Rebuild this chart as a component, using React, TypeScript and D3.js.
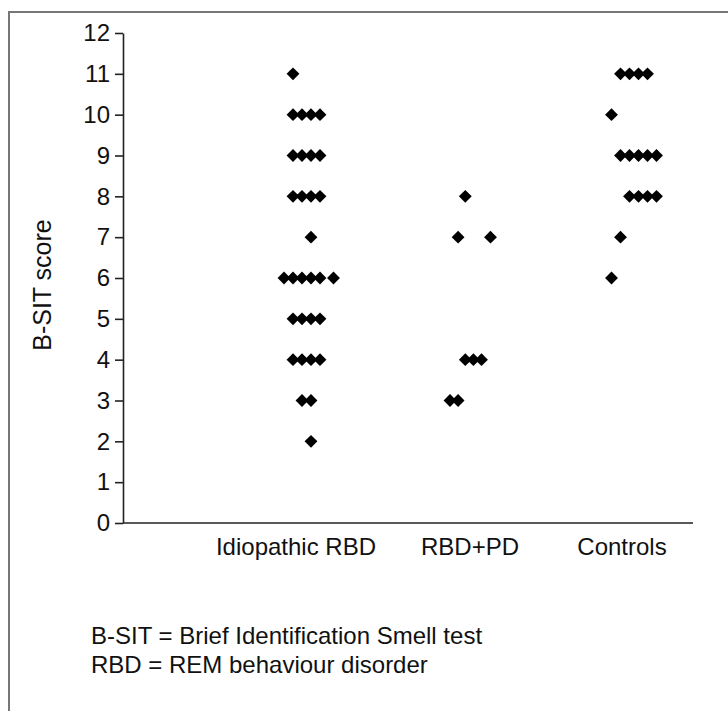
import React, { useEffect, useRef } from "react";
import * as d3 from "d3";

// categories on the x axis
const groups = ["Idiopathic RBD", "RBD+PD", "Controls"];

// B-SIT scores, with the horizontal slot each diamond sits in
const idiopathicScores = [11, 10, 10, 10, 10, 9, 9, 9, 9, 8, 8, 8, 8, 7, 6, 6, 6, 6, 6, 6, 5, 5, 5, 5, 4, 4, 4, 4, 3, 3, 2];
const idiopathicSlots = [-1, -1, 0, 1, 2, -1, 0, 1, 2, -1, 0, 1, 2, 1, -2, -1, 0, 1, 2, 3.5, -1, 0, 1, 2, -1, 0, 1, 2, 0, 1, 1];

const rbdPdScores = [8, 7, 7, 4, 4, 4, 3, 3];
const rbdPdSlots = [-0.3, -1.1, 2.5, -0.3, 0.6, 1.5, -2, -1.1];

const controlScores = [11, 11, 11, 11, 10, 9, 9, 9, 9, 9, 8, 8, 8, 8, 7, 6];
const controlSlots = [-1.5, -0.5, 0.5, 1.5, -2.5, -1.5, -0.5, 0.5, 1.5, 2.5, -0.5, 0.5, 1.5, 2.5, -1.5, -2.5];

const yTicks = d3.range(0, 13);

const footnotes = [
  "B-SIT = Brief Identification Smell test",
  "RBD = REM behaviour disorder",
];

const FONT = "'Liberation Sans', Arial, Helvetica, sans-serif";

const App = () => {
  const yRef = useRef(null);
  const xRef = useRef(null);

  const width = 728;
  const height = 711;
  const left = 123;
  const right = 693;
  const top = 33;
  const bottom = 523;
  const slotW = 9;

  const y = d3.scaleLinear().domain([0, 12]).range([bottom, top]);
  const x = d3.scalePoint().domain(groups).range([302, 634]);

  const points = [
    ...idiopathicScores.map((v, i) => ({ g: groups[0], v, s: idiopathicSlots[i] })),
    ...rbdPdScores.map((v, i) => ({ g: groups[1], v, s: rbdPdSlots[i] })),
    ...controlScores.map((v, i) => ({ g: groups[2], v, s: controlSlots[i] })),
  ];

  // label nudges so the category names sit like in the figure
  const labelShift = { "Idiopathic RBD": -6, "RBD+PD": 2, Controls: -12 };

  const diamond = d3.symbol().type(d3.symbolDiamond2).size(105);

  useEffect(() => {
    const gy = d3.select(yRef.current);
    gy.selectAll("*").remove();
    gy.call(d3.axisLeft(y).tickValues(yTicks).tickSize(8).tickSizeOuter(0).tickPadding(5));
    gy.selectAll("path, line").attr("stroke", "#222").attr("stroke-width", 1.6);
    gy.selectAll("text").attr("font-family", FONT).attr("font-size", 24).attr("fill", "#111");

    const gx = d3.select(xRef.current);
    gx.selectAll("*").remove();
    gx.append("line")
      .attr("x1", left)
      .attr("x2", right)
      .attr("y1", 0)
      .attr("y2", 0)
      .attr("stroke", "#222")
      .attr("stroke-width", 1.6);
    gx.selectAll("text.cat")
      .data(groups)
      .enter()
      .append("text")
      .attr("class", "cat")
      .attr("x", (d) => x(d) + labelShift[d])
      .attr("y", 32)
      .attr("text-anchor", "middle")
      .attr("font-family", FONT)
      .attr("font-size", 24)
      .attr("fill", "#111")
      .text((d) => d);
  }, []);

  return (
    <svg
      width={width}
      height={height}
      style={{ position: "absolute", left: 0, top: 0, background: "#fff" }}
    >
      <rect x={0} y={0} width={width} height={height} fill="#fff" />
      <path d={`M9,${height} V12 H${width}`} fill="none" stroke="#777" strokeWidth={2} />
      <g ref={yRef} transform={`translate(${left},0)`} />
      <g ref={xRef} transform={`translate(0,${bottom})`} />
      {points.map((p, i) => (
        <path
          key={i}
          d={diamond()}
          transform={`translate(${x(p.g) + p.s * slotW},${y(p.v)})`}
          fill="#000"
        />
      ))}
      <text
        transform={`translate(51,285) rotate(-90)`}
        textAnchor="middle"
        fontFamily={FONT}
        fontSize={25}
        fill="#111"
      >
        B-SIT score
      </text>
      {footnotes.map((t, i) => (
        <text key={i} x={91} y={644 + i * 29} fontFamily={FONT} fontSize={24} fill="#111">
          {t}
        </text>
      ))}
    </svg>
  );
};

export default App;
